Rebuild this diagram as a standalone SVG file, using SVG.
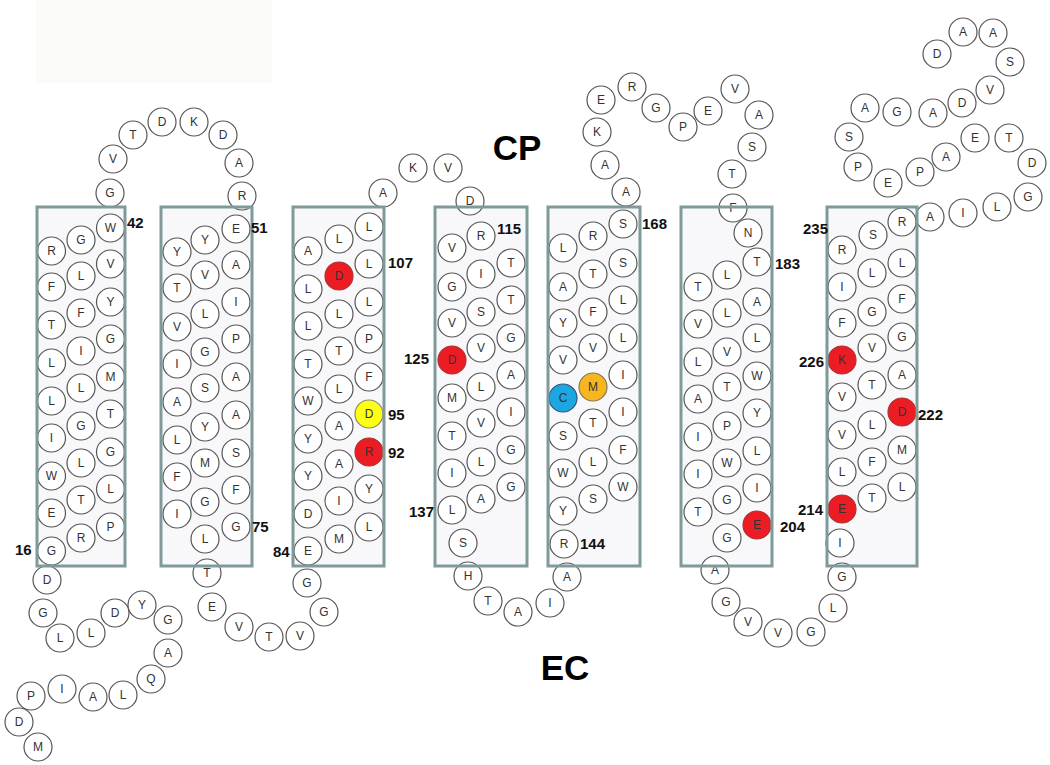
<svg xmlns="http://www.w3.org/2000/svg" width="1050" height="765" viewBox="0 0 1050 765">
<style>
.bf{fill:#f8f8fa}
.bo{fill:none;stroke:#7f9a9a;stroke-width:3}
.aa circle{fill:#fff;stroke:#555;stroke-width:1.2}
.aa text{font-family:"Liberation Sans",Arial,sans-serif;font-size:12px;fill:#333;text-anchor:middle}
.aa .red circle{fill:#ec1c24;stroke:#a33}
.aa .yel circle{fill:#ffff14;stroke:#887}
.aa .blu circle{fill:#1ca7e2;stroke:#357}
.aa .org circle{fill:#f7b520;stroke:#875}
.num{font-family:"Liberation Sans",Arial,sans-serif;font-weight:bold;font-size:15px;fill:#111}
.big{font-family:"Liberation Sans",Arial,sans-serif;font-weight:bold;font-size:35px;fill:#000;text-anchor:middle}
</style>
<rect x="36" y="0" width="236" height="83" fill="#fbfbf8"/>
<g id="boxfills">
<rect class="bf" x="37" y="207" width="88" height="359"/>
<rect class="bf" x="161" y="207" width="91" height="359"/>
<rect class="bf" x="293" y="207" width="91" height="359"/>
<rect class="bf" x="435" y="207" width="92" height="359"/>
<rect class="bf" x="548" y="207" width="92" height="359"/>
<rect class="bf" x="681" y="207" width="91" height="359"/>
<rect class="bf" x="827" y="207" width="90" height="359"/>
</g>
<g class="aa">
<g id="nterm">
<g id="r1" transform="translate(38 747)"><circle r="14"/><text y="4">M</text></g>
<g id="r2" transform="translate(19 722)"><circle r="14"/><text y="4">D</text></g>
<g id="r3" transform="translate(31 696)"><circle r="14"/><text y="4">P</text></g>
<g id="r4" transform="translate(62 689)"><circle r="14"/><text y="4">I</text></g>
<g id="r5" transform="translate(93 697)"><circle r="14"/><text y="4">A</text></g>
<g id="r6" transform="translate(123 695)"><circle r="14"/><text y="4">L</text></g>
<g id="r7" transform="translate(151 679)"><circle r="14"/><text y="4">Q</text></g>
<g id="r8" transform="translate(168 653)"><circle r="14"/><text y="4">A</text></g>
<g id="r9" transform="translate(168 620)"><circle r="14"/><text y="4">G</text></g>
<g id="r10" transform="translate(142 605)"><circle r="14"/><text y="4">Y</text></g>
<g id="r11" transform="translate(115 613)"><circle r="14"/><text y="4">D</text></g>
<g id="r12" transform="translate(91 633)"><circle r="14"/><text y="4">L</text></g>
<g id="r13" transform="translate(60 638)"><circle r="14"/><text y="4">L</text></g>
<g id="r14" transform="translate(43 613)"><circle r="14"/><text y="4">G</text></g>
<g id="r15" transform="translate(47 580)"><circle r="14"/><text y="4">D</text></g>
</g>
<g id="tm1">
<g id="h1l1" transform="translate(51.5 251)"><circle r="14"/><text y="4">R</text></g>
<g id="h1l2" transform="translate(51.5 287)"><circle r="14"/><text y="4">F</text></g>
<g id="h1l3" transform="translate(51.5 325)"><circle r="14"/><text y="4">T</text></g>
<g id="h1l4" transform="translate(51.5 363)"><circle r="14"/><text y="4">L</text></g>
<g id="h1l5" transform="translate(51.5 401)"><circle r="14"/><text y="4">L</text></g>
<g id="h1l6" transform="translate(51.5 438)"><circle r="14"/><text y="4">I</text></g>
<g id="h1l7" transform="translate(51.5 476)"><circle r="14"/><text y="4">W</text></g>
<g id="h1l8" transform="translate(51.5 513)"><circle r="14"/><text y="4">E</text></g>
<g id="h1l9" transform="translate(51.5 551)"><circle r="14"/><text y="4">G</text></g>
<g id="h1m1" transform="translate(81 240)"><circle r="14"/><text y="4">G</text></g>
<g id="h1m2" transform="translate(81 276)"><circle r="14"/><text y="4">L</text></g>
<g id="h1m3" transform="translate(81 313)"><circle r="14"/><text y="4">F</text></g>
<g id="h1m4" transform="translate(81 351)"><circle r="14"/><text y="4">I</text></g>
<g id="h1m5" transform="translate(81 388)"><circle r="14"/><text y="4">L</text></g>
<g id="h1m6" transform="translate(81 426)"><circle r="14"/><text y="4">G</text></g>
<g id="h1m7" transform="translate(81 463)"><circle r="14"/><text y="4">L</text></g>
<g id="h1m8" transform="translate(81 500)"><circle r="14"/><text y="4">T</text></g>
<g id="h1m9" transform="translate(81 538)"><circle r="14"/><text y="4">R</text></g>
<g id="h1r1" transform="translate(110.5 228)"><circle r="14"/><text y="4">W</text></g>
<g id="h1r2" transform="translate(110.5 264)"><circle r="14"/><text y="4">V</text></g>
<g id="h1r3" transform="translate(110.5 302)"><circle r="14"/><text y="4">Y</text></g>
<g id="h1r4" transform="translate(110.5 339)"><circle r="14"/><text y="4">G</text></g>
<g id="h1r5" transform="translate(110.5 377)"><circle r="14"/><text y="4">M</text></g>
<g id="h1r6" transform="translate(110.5 414)"><circle r="14"/><text y="4">T</text></g>
<g id="h1r7" transform="translate(110.5 452)"><circle r="14"/><text y="4">G</text></g>
<g id="h1r8" transform="translate(110.5 489)"><circle r="14"/><text y="4">L</text></g>
<g id="h1r9" transform="translate(110.5 527)"><circle r="14"/><text y="4">P</text></g>
</g>
<g id="loop1">
<g id="l1a" transform="translate(110 193)"><circle r="14"/><text y="4">G</text></g>
<g id="l1b" transform="translate(113 159)"><circle r="14"/><text y="4">V</text></g>
<g id="l1c" transform="translate(133 135)"><circle r="14"/><text y="4">T</text></g>
<g id="l1d" transform="translate(162 122)"><circle r="14"/><text y="4">D</text></g>
<g id="l1e" transform="translate(194 122)"><circle r="14"/><text y="4">K</text></g>
<g id="l1f" transform="translate(223 135)"><circle r="14"/><text y="4">D</text></g>
<g id="l1g" transform="translate(239 163)"><circle r="14"/><text y="4">A</text></g>
<g id="l1h" transform="translate(242 196)"><circle r="14"/><text y="4">R</text></g>
</g>
<g id="tm2">
<g id="h2l1" transform="translate(177 252)"><circle r="14"/><text y="4">Y</text></g>
<g id="h2l2" transform="translate(177 288)"><circle r="14"/><text y="4">T</text></g>
<g id="h2l3" transform="translate(177 327)"><circle r="14"/><text y="4">V</text></g>
<g id="h2l4" transform="translate(177 364)"><circle r="14"/><text y="4">I</text></g>
<g id="h2l5" transform="translate(177 402)"><circle r="14"/><text y="4">A</text></g>
<g id="h2l6" transform="translate(177 440)"><circle r="14"/><text y="4">L</text></g>
<g id="h2l7" transform="translate(177 477)"><circle r="14"/><text y="4">F</text></g>
<g id="h2l8" transform="translate(177 514)"><circle r="14"/><text y="4">I</text></g>
<g id="h2m1" transform="translate(205 240)"><circle r="14"/><text y="4">Y</text></g>
<g id="h2m2" transform="translate(205 275)"><circle r="14"/><text y="4">V</text></g>
<g id="h2m3" transform="translate(205 314)"><circle r="14"/><text y="4">L</text></g>
<g id="h2m4" transform="translate(205 352)"><circle r="14"/><text y="4">G</text></g>
<g id="h2m5" transform="translate(205 388)"><circle r="14"/><text y="4">S</text></g>
<g id="h2m6" transform="translate(205 427)"><circle r="14"/><text y="4">Y</text></g>
<g id="h2m7" transform="translate(205 463)"><circle r="14"/><text y="4">M</text></g>
<g id="h2m8" transform="translate(205 502)"><circle r="14"/><text y="4">G</text></g>
<g id="h2m9" transform="translate(205 539)"><circle r="14"/><text y="4">L</text></g>
<g id="h2r1" transform="translate(236 229)"><circle r="14"/><text y="4">E</text></g>
<g id="h2r2" transform="translate(236 265)"><circle r="14"/><text y="4">A</text></g>
<g id="h2r3" transform="translate(236 302)"><circle r="14"/><text y="4">I</text></g>
<g id="h2r4" transform="translate(236 339)"><circle r="14"/><text y="4">P</text></g>
<g id="h2r5" transform="translate(236 377)"><circle r="14"/><text y="4">A</text></g>
<g id="h2r6" transform="translate(236 415)"><circle r="14"/><text y="4">A</text></g>
<g id="h2r7" transform="translate(236 453)"><circle r="14"/><text y="4">S</text></g>
<g id="h2r8" transform="translate(236 490)"><circle r="14"/><text y="4">F</text></g>
<g id="h2r9" transform="translate(236 527)"><circle r="14"/><text y="4">G</text></g>
</g>
<g id="loop2">
<g id="l2a" transform="translate(207 573)"><circle r="14"/><text y="4">T</text></g>
<g id="l2b" transform="translate(212 607)"><circle r="14"/><text y="4">E</text></g>
<g id="l2c" transform="translate(239 627)"><circle r="14"/><text y="4">V</text></g>
<g id="l2d" transform="translate(269 637)"><circle r="14"/><text y="4">T</text></g>
<g id="l2e" transform="translate(300 636)"><circle r="14"/><text y="4">V</text></g>
<g id="l2f" transform="translate(324 612)"><circle r="14"/><text y="4">G</text></g>
<g id="l2g" transform="translate(307 583)"><circle r="14"/><text y="4">G</text></g>
</g>
<g id="tm3">
<g id="h3l1" transform="translate(308 251)"><circle r="14"/><text y="4">A</text></g>
<g id="h3l2" transform="translate(308 289)"><circle r="14"/><text y="4">L</text></g>
<g id="h3l3" transform="translate(308 326)"><circle r="14"/><text y="4">L</text></g>
<g id="h3l4" transform="translate(308 364)"><circle r="14"/><text y="4">T</text></g>
<g id="h3l5" transform="translate(308 401)"><circle r="14"/><text y="4">W</text></g>
<g id="h3l6" transform="translate(308 439)"><circle r="14"/><text y="4">Y</text></g>
<g id="h3l7" transform="translate(308 476)"><circle r="14"/><text y="4">Y</text></g>
<g id="h3l8" transform="translate(308 514)"><circle r="14"/><text y="4">D</text></g>
<g id="h3l9" transform="translate(308 551)"><circle r="14"/><text y="4">E</text></g>
<g id="h3m1" transform="translate(339 239)"><circle r="14"/><text y="4">L</text></g>
<g id="h3m2" class="red" transform="translate(339 276)"><circle r="14"/><text y="4">D</text></g>
<g id="h3m3" transform="translate(339 314)"><circle r="14"/><text y="4">L</text></g>
<g id="h3m4" transform="translate(339 351)"><circle r="14"/><text y="4">T</text></g>
<g id="h3m5" transform="translate(339 389)"><circle r="14"/><text y="4">L</text></g>
<g id="h3m6" transform="translate(339 426)"><circle r="14"/><text y="4">A</text></g>
<g id="h3m7" transform="translate(339 464)"><circle r="14"/><text y="4">A</text></g>
<g id="h3m8" transform="translate(339 501)"><circle r="14"/><text y="4">I</text></g>
<g id="h3m9" transform="translate(339 539)"><circle r="14"/><text y="4">M</text></g>
<g id="h3r1" transform="translate(369 227)"><circle r="14"/><text y="4">L</text></g>
<g id="h3r2" transform="translate(369 264)"><circle r="14"/><text y="4">L</text></g>
<g id="h3r3" transform="translate(369 302)"><circle r="14"/><text y="4">L</text></g>
<g id="h3r4" transform="translate(369 339)"><circle r="14"/><text y="4">P</text></g>
<g id="h3r5" transform="translate(369 377)"><circle r="14"/><text y="4">F</text></g>
<g id="h3r6" class="yel" transform="translate(369 414)"><circle r="14"/><text y="4">D</text></g>
<g id="h3r7" class="red" transform="translate(369 452)"><circle r="14"/><text y="4">R</text></g>
<g id="h3r8" transform="translate(369 489)"><circle r="14"/><text y="4">Y</text></g>
<g id="h3r9" transform="translate(369 527)"><circle r="14"/><text y="4">L</text></g>
</g>
<g id="loop3">
<g id="l3a" transform="translate(383 193)"><circle r="14"/><text y="4">A</text></g>
<g id="l3b" transform="translate(413 168)"><circle r="14"/><text y="4">K</text></g>
<g id="l3c" transform="translate(448 168)"><circle r="14"/><text y="4">V</text></g>
<g id="l3d" transform="translate(470 201)"><circle r="14"/><text y="4">D</text></g>
</g>
<g id="tm4">
<g id="h4l1" transform="translate(452 248)"><circle r="14"/><text y="4">V</text></g>
<g id="h4l2" transform="translate(452 287)"><circle r="14"/><text y="4">G</text></g>
<g id="h4l3" transform="translate(452 323)"><circle r="14"/><text y="4">V</text></g>
<g id="h4l4" class="red" transform="translate(452 360)"><circle r="14"/><text y="4">D</text></g>
<g id="h4l5" transform="translate(452 398)"><circle r="14"/><text y="4">M</text></g>
<g id="h4l6" transform="translate(452 436)"><circle r="14"/><text y="4">T</text></g>
<g id="h4l7" transform="translate(452 473)"><circle r="14"/><text y="4">I</text></g>
<g id="h4l8" transform="translate(452 510)"><circle r="14"/><text y="4">L</text></g>
<g id="h4m1" transform="translate(481 236)"><circle r="14"/><text y="4">R</text></g>
<g id="h4m2" transform="translate(481 274)"><circle r="14"/><text y="4">I</text></g>
<g id="h4m3" transform="translate(481 312)"><circle r="14"/><text y="4">S</text></g>
<g id="h4m4" transform="translate(481 348)"><circle r="14"/><text y="4">V</text></g>
<g id="h4m5" transform="translate(481 387)"><circle r="14"/><text y="4">L</text></g>
<g id="h4m6" transform="translate(481 423)"><circle r="14"/><text y="4">V</text></g>
<g id="h4m7" transform="translate(481 462)"><circle r="14"/><text y="4">L</text></g>
<g id="h4m8" transform="translate(481 499)"><circle r="14"/><text y="4">A</text></g>
<g id="h4m9" transform="translate(463 543)"><circle r="14"/><text y="4">S</text></g>
<g id="h4r1" transform="translate(511 263)"><circle r="14"/><text y="4">T</text></g>
<g id="h4r2" transform="translate(511 300)"><circle r="14"/><text y="4">T</text></g>
<g id="h4r3" transform="translate(511 338)"><circle r="14"/><text y="4">G</text></g>
<g id="h4r4" transform="translate(511 375)"><circle r="14"/><text y="4">A</text></g>
<g id="h4r5" transform="translate(511 412)"><circle r="14"/><text y="4">I</text></g>
<g id="h4r6" transform="translate(511 450)"><circle r="14"/><text y="4">G</text></g>
<g id="h4r7" transform="translate(511 487)"><circle r="14"/><text y="4">G</text></g>
</g>
<g id="loop4">
<g id="l4a" transform="translate(468 576)"><circle r="14"/><text y="4">H</text></g>
<g id="l4b" transform="translate(488 601)"><circle r="14"/><text y="4">T</text></g>
<g id="l4c" transform="translate(518 612)"><circle r="14"/><text y="4">A</text></g>
<g id="l4d" transform="translate(550 603)"><circle r="14"/><text y="4">I</text></g>
<g id="l4e" transform="translate(567 577)"><circle r="14"/><text y="4">A</text></g>
</g>
<g id="tm5">
<g id="h5l1" transform="translate(563 248)"><circle r="14"/><text y="4">L</text></g>
<g id="h5l2" transform="translate(563 287)"><circle r="14"/><text y="4">A</text></g>
<g id="h5l3" transform="translate(563 323)"><circle r="14"/><text y="4">Y</text></g>
<g id="h5l4" transform="translate(563 360)"><circle r="14"/><text y="4">V</text></g>
<g id="h5l5" class="blu" transform="translate(563 398)"><circle r="14"/><text y="4">C</text></g>
<g id="h5l6" transform="translate(563 436)"><circle r="14"/><text y="4">S</text></g>
<g id="h5l7" transform="translate(563 473)"><circle r="14"/><text y="4">W</text></g>
<g id="h5l8" transform="translate(563 511)"><circle r="14"/><text y="4">Y</text></g>
<g id="h5l9" transform="translate(564 544)"><circle r="14"/><text y="4">R</text></g>
<g id="h5m1" transform="translate(593 236)"><circle r="14"/><text y="4">R</text></g>
<g id="h5m2" transform="translate(593 274)"><circle r="14"/><text y="4">T</text></g>
<g id="h5m3" transform="translate(593 312)"><circle r="14"/><text y="4">F</text></g>
<g id="h5m4" transform="translate(593 348)"><circle r="14"/><text y="4">V</text></g>
<g id="h5m5" class="org" transform="translate(593 387)"><circle r="14"/><text y="4">M</text></g>
<g id="h5m6" transform="translate(593 423)"><circle r="14"/><text y="4">T</text></g>
<g id="h5m7" transform="translate(593 462)"><circle r="14"/><text y="4">L</text></g>
<g id="h5m8" transform="translate(593 499)"><circle r="14"/><text y="4">S</text></g>
<g id="h5r1" transform="translate(623 224)"><circle r="14"/><text y="4">S</text></g>
<g id="h5r2" transform="translate(623 263)"><circle r="14"/><text y="4">S</text></g>
<g id="h5r3" transform="translate(623 300)"><circle r="14"/><text y="4">L</text></g>
<g id="h5r4" transform="translate(623 338)"><circle r="14"/><text y="4">L</text></g>
<g id="h5r5" transform="translate(623 375)"><circle r="14"/><text y="4">I</text></g>
<g id="h5r6" transform="translate(623 412)"><circle r="14"/><text y="4">I</text></g>
<g id="h5r7" transform="translate(623 450)"><circle r="14"/><text y="4">F</text></g>
<g id="h5r8" transform="translate(623 487)"><circle r="14"/><text y="4">W</text></g>
</g>
<g id="loop5">
<g id="l5a" transform="translate(626 192)"><circle r="14"/><text y="4">A</text></g>
<g id="l5b" transform="translate(605 165)"><circle r="14"/><text y="4">A</text></g>
<g id="l5c" transform="translate(597 132)"><circle r="14"/><text y="4">K</text></g>
<g id="l5d" transform="translate(601 100)"><circle r="14"/><text y="4">E</text></g>
<g id="l5e" transform="translate(632 87)"><circle r="14"/><text y="4">R</text></g>
<g id="l5f" transform="translate(656 108)"><circle r="14"/><text y="4">G</text></g>
<g id="l5g" transform="translate(683 127)"><circle r="14"/><text y="4">P</text></g>
<g id="l5h" transform="translate(708 111)"><circle r="14"/><text y="4">E</text></g>
<g id="l5i" transform="translate(735 89)"><circle r="14"/><text y="4">V</text></g>
<g id="l5j" transform="translate(759 115)"><circle r="14"/><text y="4">A</text></g>
<g id="l5k" transform="translate(752 147)"><circle r="14"/><text y="4">S</text></g>
<g id="l5l" transform="translate(732 174)"><circle r="14"/><text y="4">T</text></g>
<g id="l5m" transform="translate(733 208)"><circle r="14"/><text y="4">F</text></g>
<g id="l5n" transform="translate(748 233)"><circle r="14"/><text y="4">N</text></g>
</g>
<g id="tm6">
<g id="h6l1" transform="translate(698 287)"><circle r="14"/><text y="4">T</text></g>
<g id="h6l2" transform="translate(698 324)"><circle r="14"/><text y="4">V</text></g>
<g id="h6l3" transform="translate(698 362)"><circle r="14"/><text y="4">L</text></g>
<g id="h6l4" transform="translate(698 399)"><circle r="14"/><text y="4">A</text></g>
<g id="h6l5" transform="translate(698 437)"><circle r="14"/><text y="4">I</text></g>
<g id="h6l6" transform="translate(698 474)"><circle r="14"/><text y="4">I</text></g>
<g id="h6l7" transform="translate(698 512)"><circle r="14"/><text y="4">T</text></g>
<g id="h6m1" transform="translate(727 275)"><circle r="14"/><text y="4">L</text></g>
<g id="h6m2" transform="translate(727 313)"><circle r="14"/><text y="4">L</text></g>
<g id="h6m3" transform="translate(727 352)"><circle r="14"/><text y="4">V</text></g>
<g id="h6m4" transform="translate(727 387)"><circle r="14"/><text y="4">T</text></g>
<g id="h6m5" transform="translate(727 426)"><circle r="14"/><text y="4">P</text></g>
<g id="h6m6" transform="translate(727 463)"><circle r="14"/><text y="4">W</text></g>
<g id="h6m7" transform="translate(727 500)"><circle r="14"/><text y="4">G</text></g>
<g id="h6m8" transform="translate(727 538)"><circle r="14"/><text y="4">G</text></g>
<g id="h6r1" transform="translate(757 262)"><circle r="14"/><text y="4">T</text></g>
<g id="h6r2" transform="translate(757 302)"><circle r="14"/><text y="4">A</text></g>
<g id="h6r3" transform="translate(757 338)"><circle r="14"/><text y="4">L</text></g>
<g id="h6r4" transform="translate(757 376)"><circle r="14"/><text y="4">W</text></g>
<g id="h6r5" transform="translate(757 413)"><circle r="14"/><text y="4">Y</text></g>
<g id="h6r6" transform="translate(757 451)"><circle r="14"/><text y="4">L</text></g>
<g id="h6r7" transform="translate(757 488)"><circle r="14"/><text y="4">I</text></g>
<g id="h6r8" class="red" transform="translate(757 525)"><circle r="14"/><text y="4">E</text></g>
</g>
<g id="loop6">
<g id="l6a" transform="translate(715 570)"><circle r="14"/><text y="4">A</text></g>
<g id="l6b" transform="translate(726 602)"><circle r="14"/><text y="4">G</text></g>
<g id="l6c" transform="translate(748 622)"><circle r="14"/><text y="4">V</text></g>
<g id="l6d" transform="translate(778 633)"><circle r="14"/><text y="4">V</text></g>
<g id="l6e" transform="translate(811 632)"><circle r="14"/><text y="4">G</text></g>
<g id="l6f" transform="translate(833 608)"><circle r="14"/><text y="4">L</text></g>
<g id="l6g" transform="translate(842 577)"><circle r="14"/><text y="4">G</text></g>
</g>
<g id="tm7">
<g id="h7l1" transform="translate(840 543)"><circle r="14"/><text y="4">I</text></g>
<g id="h7l2" class="red" transform="translate(842 509)"><circle r="14"/><text y="4">E</text></g>
<g id="h7l3" transform="translate(842 472)"><circle r="14"/><text y="4">L</text></g>
<g id="h7l4" transform="translate(842 435)"><circle r="14"/><text y="4">V</text></g>
<g id="h7l5" transform="translate(842 397)"><circle r="14"/><text y="4">V</text></g>
<g id="h7l6" class="red" transform="translate(842 360)"><circle r="14"/><text y="4">K</text></g>
<g id="h7l7" transform="translate(842 323)"><circle r="14"/><text y="4">F</text></g>
<g id="h7l8" transform="translate(842 287)"><circle r="14"/><text y="4">I</text></g>
<g id="h7l9" transform="translate(842 250)"><circle r="14"/><text y="4">R</text></g>
<g id="h7m1" transform="translate(872 498)"><circle r="14"/><text y="4">T</text></g>
<g id="h7m2" transform="translate(872 462)"><circle r="14"/><text y="4">F</text></g>
<g id="h7m3" transform="translate(872 425)"><circle r="14"/><text y="4">L</text></g>
<g id="h7m4" transform="translate(872 385)"><circle r="14"/><text y="4">T</text></g>
<g id="h7m5" transform="translate(872 348)"><circle r="14"/><text y="4">V</text></g>
<g id="h7m6" transform="translate(872 312)"><circle r="14"/><text y="4">G</text></g>
<g id="h7m7" transform="translate(872 273)"><circle r="14"/><text y="4">L</text></g>
<g id="h7m8" transform="translate(873 235)"><circle r="14"/><text y="4">S</text></g>
<g id="h7r1" transform="translate(902 487)"><circle r="14"/><text y="4">L</text></g>
<g id="h7r2" transform="translate(902 450)"><circle r="14"/><text y="4">M</text></g>
<g id="h7r3" class="red" transform="translate(902 412)"><circle r="14"/><text y="4">D</text></g>
<g id="h7r4" transform="translate(902 375)"><circle r="14"/><text y="4">A</text></g>
<g id="h7r5" transform="translate(902 337)"><circle r="14"/><text y="4">G</text></g>
<g id="h7r6" transform="translate(902 299)"><circle r="14"/><text y="4">F</text></g>
<g id="h7r7" transform="translate(902 263)"><circle r="14"/><text y="4">L</text></g>
<g id="h7r8" transform="translate(902 222)"><circle r="14"/><text y="4">R</text></g>
</g>
<g id="cterm">
<g id="c1" transform="translate(930 217)"><circle r="14"/><text y="4">A</text></g>
<g id="c2" transform="translate(963 213)"><circle r="14"/><text y="4">I</text></g>
<g id="c3" transform="translate(997 207)"><circle r="14"/><text y="4">L</text></g>
<g id="c4" transform="translate(1028 197)"><circle r="14"/><text y="4">G</text></g>
<g id="c5" transform="translate(1032 163)"><circle r="14"/><text y="4">D</text></g>
<g id="c6" transform="translate(1009 138)"><circle r="14"/><text y="4">T</text></g>
<g id="c7" transform="translate(975 138)"><circle r="14"/><text y="4">E</text></g>
<g id="c8" transform="translate(946 157)"><circle r="14"/><text y="4">A</text></g>
<g id="c9" transform="translate(920 172)"><circle r="14"/><text y="4">P</text></g>
<g id="c10" transform="translate(888 183)"><circle r="14"/><text y="4">E</text></g>
<g id="c11" transform="translate(858 167)"><circle r="14"/><text y="4">P</text></g>
<g id="c12" transform="translate(849 137)"><circle r="14"/><text y="4">S</text></g>
<g id="c13" transform="translate(865 108)"><circle r="14"/><text y="4">A</text></g>
<g id="c14" transform="translate(897 112)"><circle r="14"/><text y="4">G</text></g>
<g id="c15" transform="translate(933 113)"><circle r="14"/><text y="4">A</text></g>
<g id="c16" transform="translate(962 103)"><circle r="14"/><text y="4">D</text></g>
<g id="c17" transform="translate(990 90)"><circle r="14"/><text y="4">V</text></g>
<g id="c18" transform="translate(1010 62)"><circle r="14"/><text y="4">S</text></g>
<g id="c19" transform="translate(993 33)"><circle r="14"/><text y="4">A</text></g>
<g id="c20" transform="translate(963 32)"><circle r="14"/><text y="4">A</text></g>
<g id="c21" transform="translate(937 54)"><circle r="14"/><text y="4">D</text></g>
</g>
</g>
<g id="boxoutlines">
<rect class="bo" x="37" y="207" width="88" height="359"/>
<rect class="bo" x="161" y="207" width="91" height="359"/>
<rect class="bo" x="293" y="207" width="91" height="359"/>
<rect class="bo" x="435" y="207" width="92" height="359"/>
<rect class="bo" x="548" y="207" width="92" height="359"/>
<rect class="bo" x="681" y="207" width="91" height="359"/>
<rect class="bo" x="827" y="207" width="90" height="359"/>
</g>
<g id="labels">
<text class="num" x="127" y="228">42</text>
<text class="num" x="251" y="233">51</text>
<text class="num" x="252" y="532">75</text>
<text class="num" x="15" y="555">16</text>
<text class="num" x="273" y="557">84</text>
<text class="num" x="388" y="268">107</text>
<text class="num" x="388" y="420">95</text>
<text class="num" x="388" y="458">92</text>
<text class="num" x="497" y="234">115</text>
<text class="num" x="404" y="364">125</text>
<text class="num" x="409" y="517">137</text>
<text class="num" x="580" y="549">144</text>
<text class="num" x="642" y="229">168</text>
<text class="num" x="775" y="269">183</text>
<text class="num" x="780" y="532">204</text>
<text class="num" x="803" y="234">235</text>
<text class="num" x="799" y="367">226</text>
<text class="num" x="918" y="420">222</text>
<text class="num" x="798" y="515">214</text>
<text class="big" x="517" y="160">CP</text>
<text class="big" x="565" y="680">EC</text>
</g>
</svg>
